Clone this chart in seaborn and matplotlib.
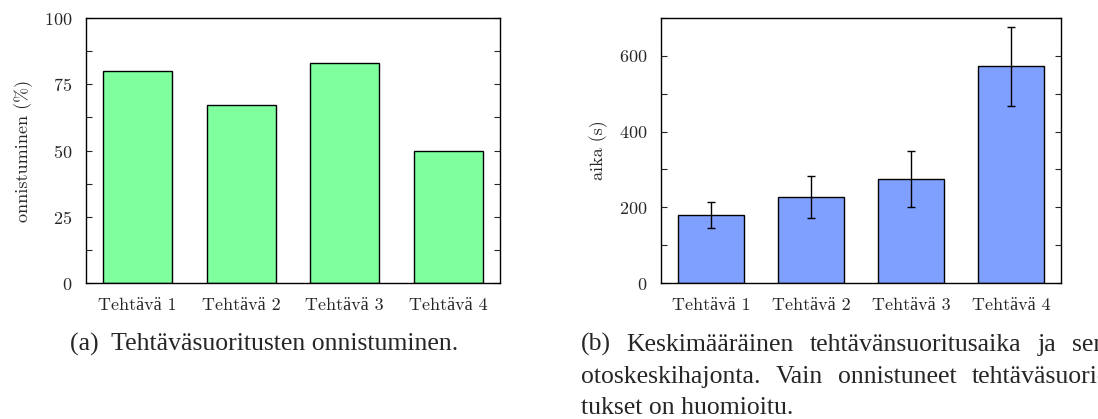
import matplotlib
matplotlib.use("Agg")
import matplotlib.pyplot as plt
import seaborn as sns
import pandas as pd
from matplotlib.ticker import MultipleLocator

# -----------------------------
# DATA
# -----------------------------
tasks = ["Tehtävä 1", "Tehtävä 2", "Tehtävä 3", "Tehtävä 4"]
success_pct = [80, 67, 83, 50]
mean_time = [180, 227, 274, 572]
std_time = [35, 56, 74, 104]

caption_a = "(a)  Tehtäväsuoritusten onnistuminen."
caption_b = ["(b) Keskimääräinen tehtävänsuoritusaika ja sen",
             "otoskeskihajonta. Vain onnistuneet tehtäväsuori-",
             "tukset on huomioitu."]

sns.set_style("ticks")
# Computer Modern for the plot texts, Liberation Serif for glyphs it lacks (ä)
plt.rcParams["font.family"] = ["cmr10", "Liberation Serif"]
plt.rcParams["axes.formatter.use_mathtext"] = True
plt.rcParams["axes.unicode_minus"] = False

green = "#80ff9f"
blue = "#80a0ff"

df_a = pd.DataFrame({"task": tasks, "value": success_pct})
df_b = pd.DataFrame({"task": tasks, "value": mean_time, "sd": std_time})

W, H = 1098, 419
fig = plt.figure(figsize=(W / 100, H / 100), dpi=100)

ax1 = fig.add_axes([86 / W, (H - 283) / H, 414 / W, 265 / H])
ax2 = fig.add_axes([661 / W, (H - 283) / H, 400 / W, 265 / H])

sns.barplot(data=df_a, x="task", y="value", color=green, width=0.667,
            edgecolor="black", linewidth=1.0, errorbar=None, saturation=1, ax=ax1)
sns.barplot(data=df_b, x="task", y="value", color=blue, width=0.667,
            edgecolor="black", linewidth=1.0, errorbar=None, saturation=1, ax=ax2)
ax2.errorbar(x=range(len(tasks)), y=df_b["value"], yerr=df_b["sd"], fmt="none",
             ecolor="black", elinewidth=1.0, capsize=3, capthick=1.0)

ax1.set_ylim(0, 100)
ax1.yaxis.set_major_locator(MultipleLocator(25))
ax1.yaxis.set_minor_locator(MultipleLocator(12.5))
ax1.set_ylabel("onnistuminen (%)", fontsize=13, labelpad=8)

ax2.set_ylim(0, 700)
ax2.yaxis.set_major_locator(MultipleLocator(200))
ax2.yaxis.set_minor_locator(MultipleLocator(100))
ax2.set_ylabel("aika (s)", fontsize=13, labelpad=8)

for ax in (ax1, ax2):
    ax.set_xlim(-0.5, 3.5)
    ax.set_xlabel("")
    for s in ax.spines.values():
        s.set_visible(True)
        s.set_linewidth(1.0)
        s.set_color("black")
    ax.tick_params(axis="y", which="both", direction="in", left=True, right=True,
                   length=4, width=0.8, labelsize=13, pad=10)
    ax.tick_params(axis="x", which="both", bottom=False, top=False,
                   labelsize=13, pad=7)
    ax.grid(False)

cap_font = "Liberation Serif"
cap_size = 18.5
fig.text(70 / W, 1 - 351 / H, caption_a, family=cap_font, fontsize=cap_size,
         ha="left", va="baseline")

# caption (b): justified lines, last line left aligned
renderer = fig.canvas.get_renderer()
left_px, right_px = 581, 1106
for i, line in enumerate(caption_b):
    y = 1 - (351 + 31.5 * i) / H
    words = line.split(" ")
    if i == len(caption_b) - 1:
        fig.text(left_px / W, y, line, family=cap_font, fontsize=cap_size,
                 ha="left", va="baseline")
        continue
    texts = [fig.text(0, y, w, family=cap_font, fontsize=cap_size,
                      ha="left", va="baseline") for w in words]
    widths = [t.get_window_extent(renderer).width for t in texts]
    gap = (right_px - left_px - sum(widths)) / (len(words) - 1)
    x = left_px
    for t, w in zip(texts, widths):
        t.set_x(x / W)
        x += w + gap

fig.savefig("out.png", dpi=100)
